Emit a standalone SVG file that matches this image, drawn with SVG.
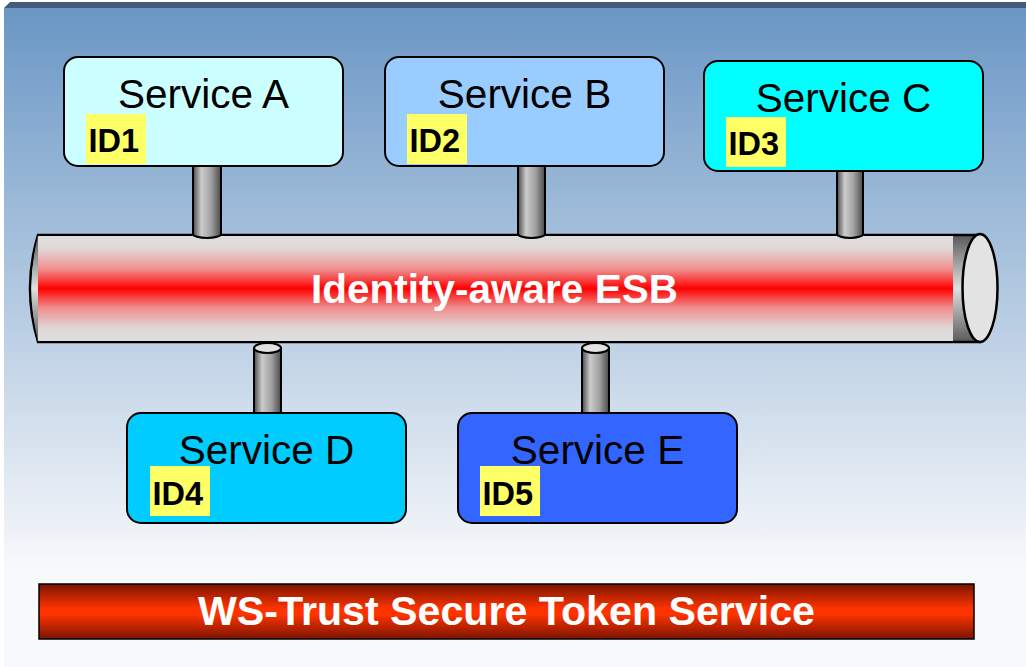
<svg xmlns="http://www.w3.org/2000/svg" width="1026" height="667" viewBox="0 0 1026 667">
<defs>
<linearGradient id="bg" x1="0" y1="8" x2="0" y2="570" gradientUnits="userSpaceOnUse">
<stop offset="0" stop-color="#6a97c5"/>
<stop offset="1" stop-color="#f8f9fb"/>
</linearGradient>
<linearGradient id="pipeGray" x1="0" y1="0" x2="0" y2="1">
<stop offset="0" stop-color="#5a5a5a"/>
<stop offset="0.5" stop-color="#e0e0e0"/>
<stop offset="1" stop-color="#5a5a5a"/>
</linearGradient>
<linearGradient id="redBand" x1="0" y1="0" x2="0" y2="1">
<stop offset="0" stop-color="#dedede"/>
<stop offset="0.12" stop-color="#e0d8d8"/>
<stop offset="0.32" stop-color="#f08c8c"/>
<stop offset="0.5" stop-color="#ff0000"/>
<stop offset="0.68" stop-color="#f08c8c"/>
<stop offset="0.88" stop-color="#e0d8d8"/>
<stop offset="1" stop-color="#dedede"/>
</linearGradient>
<linearGradient id="stub" x1="0" y1="0" x2="1" y2="0">
<stop offset="0" stop-color="#4a4a4a"/>
<stop offset="0.3" stop-color="#cccccc"/>
<stop offset="0.65" stop-color="#a0a0a0"/>
<stop offset="1" stop-color="#4a4a4a"/>
</linearGradient>
<linearGradient id="bar" x1="0" y1="0" x2="0" y2="1">
<stop offset="0" stop-color="#7a1400"/>
<stop offset="0.45" stop-color="#ff3300"/>
<stop offset="0.55" stop-color="#ff3300"/>
<stop offset="1" stop-color="#7a1400"/>
</linearGradient>
<style>
.box{stroke:#000;stroke-width:2}
.svc{font-family:"Liberation Sans",Arial,sans-serif;font-size:40.5px;fill:#000;text-anchor:middle}
.idbg{fill:#ffff66}
.id{font-family:"Liberation Sans",Arial,sans-serif;font-size:32.5px;font-weight:bold;fill:#000}
.big{font-family:"Liberation Sans",Arial,sans-serif;font-size:40.5px;font-weight:bold;fill:#fff;text-anchor:middle}
.stub{fill:url(#stub);stroke:#000;stroke-width:2}
.cap{fill:#e2e2e2;stroke:#000;stroke-width:2}
</style>
</defs>

<rect x="0" y="0" width="1026" height="667" fill="#ffffff"/>
<rect x="4" y="8" width="1022" height="659" fill="url(#bg)"/>
<polygon points="10,2 1026,2 1026,8 4,8" fill="#445c7c"/>

<g id="esb">
<path d="M38,235 L980,235 L980,342 L38,342 Q22,288 38,235 Z" fill="url(#pipeGray)" stroke="#000" stroke-width="2.5"/>
<path d="M38,236 Q25,288 38,341 L38,236 Z" fill="url(#pipeGray)"/>
<rect x="38" y="236" width="915" height="105" fill="url(#redBand)"/>
<ellipse cx="980" cy="288" rx="17.5" ry="54" fill="#e3e3e3" stroke="#000" stroke-width="2.5"/>
<text class="big" x="494.5" y="303">Identity-aware ESB</text>
</g>

<g id="connectors">
<path class="stub" d="M193,160 L193,234 A14,4 0 0 0 221,234 L221,160 Z"/>
<path class="stub" d="M518,160 L518,234 A13.5,4 0 0 0 545,234 L545,160 Z"/>
<path class="stub" d="M837,165 L837,234 A13,4 0 0 0 863,234 L863,165 Z"/>
<path class="stub" d="M254,348 L254,420 L281,420 L281,348 Z"/>
<ellipse class="cap" cx="267.5" cy="348" rx="13.5" ry="5"/>
<path class="stub" d="M582,348 L582,420 L609,420 L609,348 Z"/>
<ellipse class="cap" cx="595.5" cy="348" rx="13.5" ry="5"/>
</g>

<g id="serviceA">
<rect class="box" x="64" y="57" width="279" height="109" rx="14" fill="#ccffff"/>
<text class="svc" x="203.5" y="108">Service A</text>
<rect class="idbg" x="86" y="114" width="60" height="50"/>
<text class="id" x="88.5" y="152">ID1</text>
</g>

<g id="serviceB">
<rect class="box" x="385" y="57" width="279" height="109" rx="14" fill="#99ccff"/>
<text class="svc" x="524.5" y="108">Service B</text>
<rect class="idbg" x="407" y="114" width="60" height="50"/>
<text class="id" x="409.5" y="152">ID2</text>
</g>

<g id="serviceC">
<rect class="box" x="704" y="61" width="279" height="110" rx="14" fill="#00ffff"/>
<text class="svc" x="843.5" y="112">Service C</text>
<rect class="idbg" x="726" y="117" width="60" height="50"/>
<text class="id" x="728.5" y="155">ID3</text>
</g>

<g id="serviceD">
<rect class="box" x="127" y="413" width="279" height="110" rx="14" fill="#00ccff"/>
<text class="svc" x="266.5" y="464">Service D</text>
<rect class="idbg" x="150" y="466" width="60" height="50"/>
<text class="id" x="152.5" y="505">ID4</text>
</g>

<g id="serviceE">
<rect class="box" x="458" y="413" width="279" height="110" rx="14" fill="#3366ff"/>
<text class="svc" x="597.5" y="464">Service E</text>
<rect class="idbg" x="480" y="466" width="60" height="50"/>
<text class="id" x="482.5" y="505">ID5</text>
</g>

<g id="sts">
<rect x="39" y="584" width="935" height="55" fill="url(#bar)" stroke="#000" stroke-width="1.5"/>
<text class="big" x="506.5" y="625" textLength="617" lengthAdjust="spacingAndGlyphs">WS-Trust Secure Token Service</text>
</g>
</svg>
